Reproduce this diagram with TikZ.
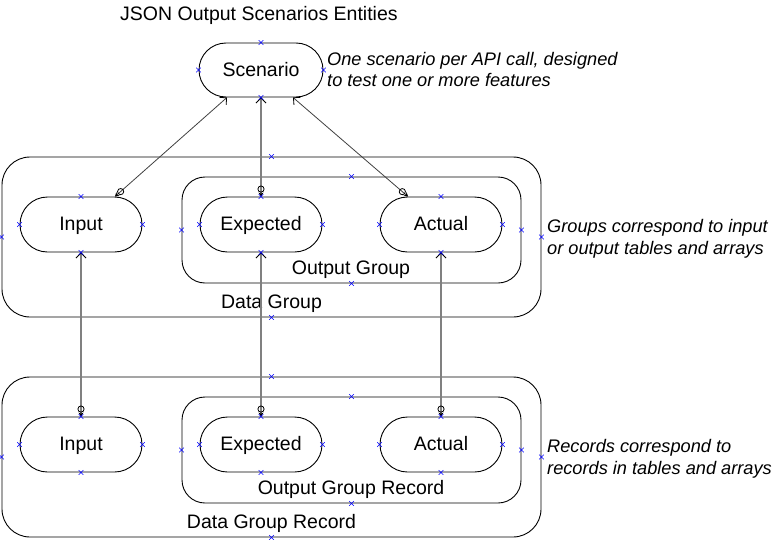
\documentclass[tikz,border=0pt]{standalone}
\usepackage{fontspec}
\setmainfont{Liberation Sans}
\usetikzlibrary{shapes.misc,arrows.meta,calc}
\newcommand\nodefnt{\fontsize{19.5}{23}\selectfont}
\newcommand\notefnt{\fontsize{18.2}{21.5}\selectfont\itshape}
\newcommand\portmark[2]{\node[portx] (#1) at (#2) {};}
\begin{document}
\begin{tikzpicture}[x=1pt,y=-1pt,
  ent/.style={rounded rectangle, draw=black, line width=0.9pt, minimum width=122pt, minimum height=55pt, inner sep=0pt, text height=15pt, text depth=3pt, font=\nodefnt},
  grp/.style={draw=black, line width=0.9pt, inner sep=0pt},
  lbl/.style={inner sep=0pt, anchor=base, font=\nodefnt},
  note/.style={inner sep=0pt, anchor=base west, font=\notefnt},
  thinconn/.style={draw=black!75, line width=0.8pt},
  thickconn/.style={draw=black!50, line width=2pt},
  ends/.style={{Straight Barb[length=5pt,width=10pt,line width=0.8pt,black]}-{Circle[open,length=7pt,width=7pt,black,line width=0.8pt] Stealth[length=4pt,width=5pt,black]}},
  portx/.style={cross out, draw=blue, minimum size=4pt, inner sep=0pt, line width=0.6pt}]
\useasboundingbox (0,0) rectangle (775,543);

% title
\node[lbl, anchor=base west] (title) at (120,21) {JSON Output Scenarios Entities};

% scenario
\node[ent, minimum width=124pt, minimum height=54pt] (sc) at (261,70) {Scenario};
\node[note] (n1a) at (327,65) {One scenario per API call, designed};
\node[note] (n1b) at (327,86) {to test one or more features};

% data group
\node[grp, rounded corners=28pt, minimum width=539pt, minimum height=160pt] (dg) at (271.5,237) {};
\node[grp, rounded corners=23pt, minimum width=339pt, minimum height=106pt] (og) at (351.5,230) {};
\node[ent] (in) at (81,224.5) {Input};
\node[ent] (ex) at (261,224.5) {Expected};
\node[ent] (ac) at (441,224.5) {Actual};
\node[lbl] (ogl) at (351,274) {Output Group};
\node[lbl] (dgl) at (271.5,308) {Data Group};
\node[note] (n2a) at (547,232) {Groups correspond to input};
\node[note] (n2b) at (547,254) {or output tables and arrays};

% data group record
\node[grp, rounded corners=28pt, minimum width=539pt, minimum height=160pt] (dgr) at (271.5,457) {};
\node[grp, rounded corners=23pt, minimum width=339pt, minimum height=106pt] (ogr) at (351.5,450) {};
\node[ent] (inr) at (81,444.5) {Input};
\node[ent] (exr) at (261,444.5) {Expected};
\node[ent] (acr) at (441,444.5) {Actual};
\node[lbl] (ogrl) at (351,494) {Output Group Record};
\node[lbl] (dgrl) at (271.5,528) {Data Group Record};
\node[note] (n3a) at (547,452) {Records correspond to};
\node[note] (n3b) at (547,474) {records in tables and arrays};

% connectors
\draw[thinconn, ends] ([xshift=-34pt]sc.south) -- ([xshift=34pt]in.north);
\draw[thickconn, ends] (sc.south) -- (ex.north);
\draw[thinconn, ends] ([xshift=32pt]sc.south) -- ([xshift=-33pt]ac.north);
\draw[thickconn, ends] (in.south) -- (inr.north);
\draw[thickconn, ends] (ex.south) -- (exr.north);
\draw[thickconn, ends] (ac.south) -- (acr.north);

% ports
\portmark{p1}{sc.north}\portmark{p2}{sc.south}\portmark{p3}{sc.west}\portmark{p4}{sc.east}
\portmark{p5}{dg.north}\portmark{p6}{dg.south}\portmark{p7}{dg.west}\portmark{p8}{dg.east}
\portmark{p9}{og.north}\portmark{p10}{og.south}\portmark{p11}{og.west}\portmark{p12}{og.east}
\portmark{p13}{in.north}\portmark{p14}{in.south}\portmark{p15}{in.west}\portmark{p16}{in.east}
\portmark{p17}{ex.north}\portmark{p18}{ex.south}\portmark{p19}{ex.west}\portmark{p20}{ex.east}
\portmark{p21}{ac.north}\portmark{p22}{ac.south}\portmark{p23}{ac.west}\portmark{p24}{ac.east}
\portmark{q5}{dgr.north}\portmark{q6}{dgr.south}\portmark{q7}{dgr.west}\portmark{q8}{dgr.east}
\portmark{q9}{ogr.north}\portmark{q10}{ogr.south}\portmark{q11}{ogr.west}\portmark{q12}{ogr.east}
\portmark{q13}{inr.north}\portmark{q14}{inr.south}\portmark{q15}{inr.west}\portmark{q16}{inr.east}
\portmark{q17}{exr.north}\portmark{q18}{exr.south}\portmark{q19}{exr.west}\portmark{q20}{exr.east}
\portmark{q21}{acr.north}\portmark{q22}{acr.south}\portmark{q23}{acr.west}\portmark{q24}{acr.east}
\end{tikzpicture}
\end{document}
